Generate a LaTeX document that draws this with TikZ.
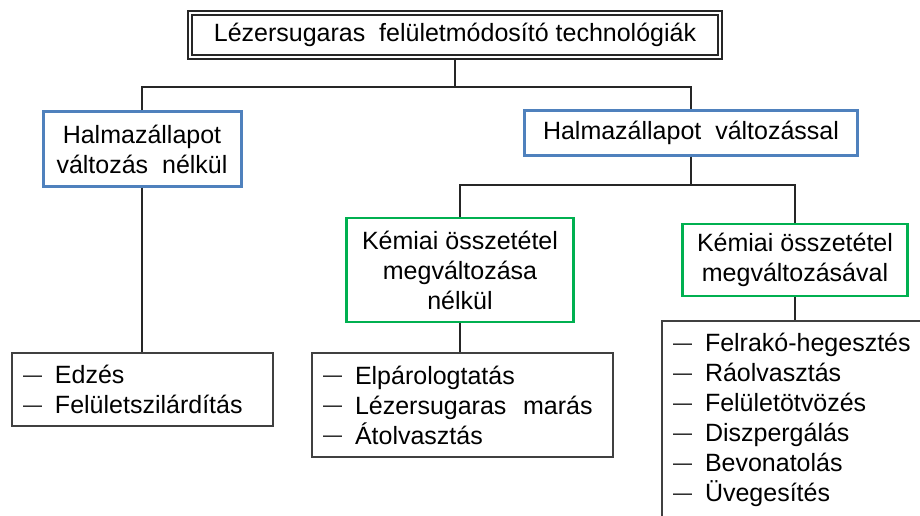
\documentclass[tikz,border=0pt]{standalone}
\usepackage{fontspec}
\setmainfont{Liberation Sans}
\usepackage{tikz}

\definecolor{allapotkek}{HTML}{4F81BD}
\definecolor{kemiazold}{HTML}{00B050}
\newcommand{\tetel}[1]{\makebox[32pt][l]{\raisebox{2.5pt}{\fontsize{19}{19}\selectfont —}}#1}

\begin{document}
\begin{tikzpicture}[x=1pt,y=-1pt,
	every node/.style={font=\fontsize{25}{30}\selectfont, inner sep=0pt},
	fokeret/.style={draw=black!85, double, double distance=2pt, line width=1.7pt, minimum width=530, minimum height=44},
	allapot/.style={draw=allapotkek, line width=3pt, fill=white, align=center},
	kemia/.style={draw=kemiazold, line width=2.5pt, fill=white, align=center},
	lista/.style={draw=black!75, line width=1.4pt, align=left, inner xsep=11pt},
	ag/.style={draw=black!85, line width=1.3pt}]
	\useasboundingbox (0,0) rectangle (920,516);
	
	\node[fokeret] (fo) at (455,35) {Lézersugaras\ \ felületmódosító technológiák};
	
	\node[allapot, minimum width=198, minimum height=74] (nelkul) at (142,149) {Halmazállapot\\változás\ \ nélkül};
	\node[allapot, minimum width=333, minimum height=44] (valtoz) at (691,133) {Halmazállapot\ \ változással};
	
	\node[kemia, minimum width=227, minimum height=104] (kem1) at (460,270) {Kémiai összetétel\\megváltozása\\nélkül};
	\node[kemia, minimum width=225, minimum height=72] (kem2) at (795,260) {Kémiai összetétel\\megváltozásával};
	
	\node[lista, text width=239, minimum height=73] (lista1) at (142.5,389.5) {\tetel{Edzés}\\\tetel{Felületszilárdítás}};
	\node[lista, text width=279, minimum height=104] (lista2) at (462.5,405) {\tetel{Elpárologtatás}\\\tetel{Lézersugaras\ \ marás}\\\tetel{Átolvasztás}};
	\node[lista, text width=256, minimum height=198] (lista3) at (801,420) {\tetel{Felrakó-hegesztés}\\\tetel{Ráolvasztás}\\\tetel{Felületötvözés}\\\tetel{Diszpergálás}\\\tetel{Bevonatolás}\\\tetel{Üvegesítés}};
	
	% elagazasok
	\coordinate (csp1) at (455,87);
	\coordinate (csp2) at (691,185);
	\draw[ag] (fo.south) -- (csp1);
	\draw[ag] (nelkul.north) |- (csp1) -| (valtoz.north);
	\draw[ag] (valtoz.south) -- (csp2);
	\draw[ag] (kem1.north) |- (csp2) -| (kem2.north);
	
	\foreach \a/\b in {nelkul/lista1, kem1/lista2, kem2/lista3}
	\draw[ag] (\a.south) -- (\a.south |- \b.north);
\end{tikzpicture}
\end{document}
